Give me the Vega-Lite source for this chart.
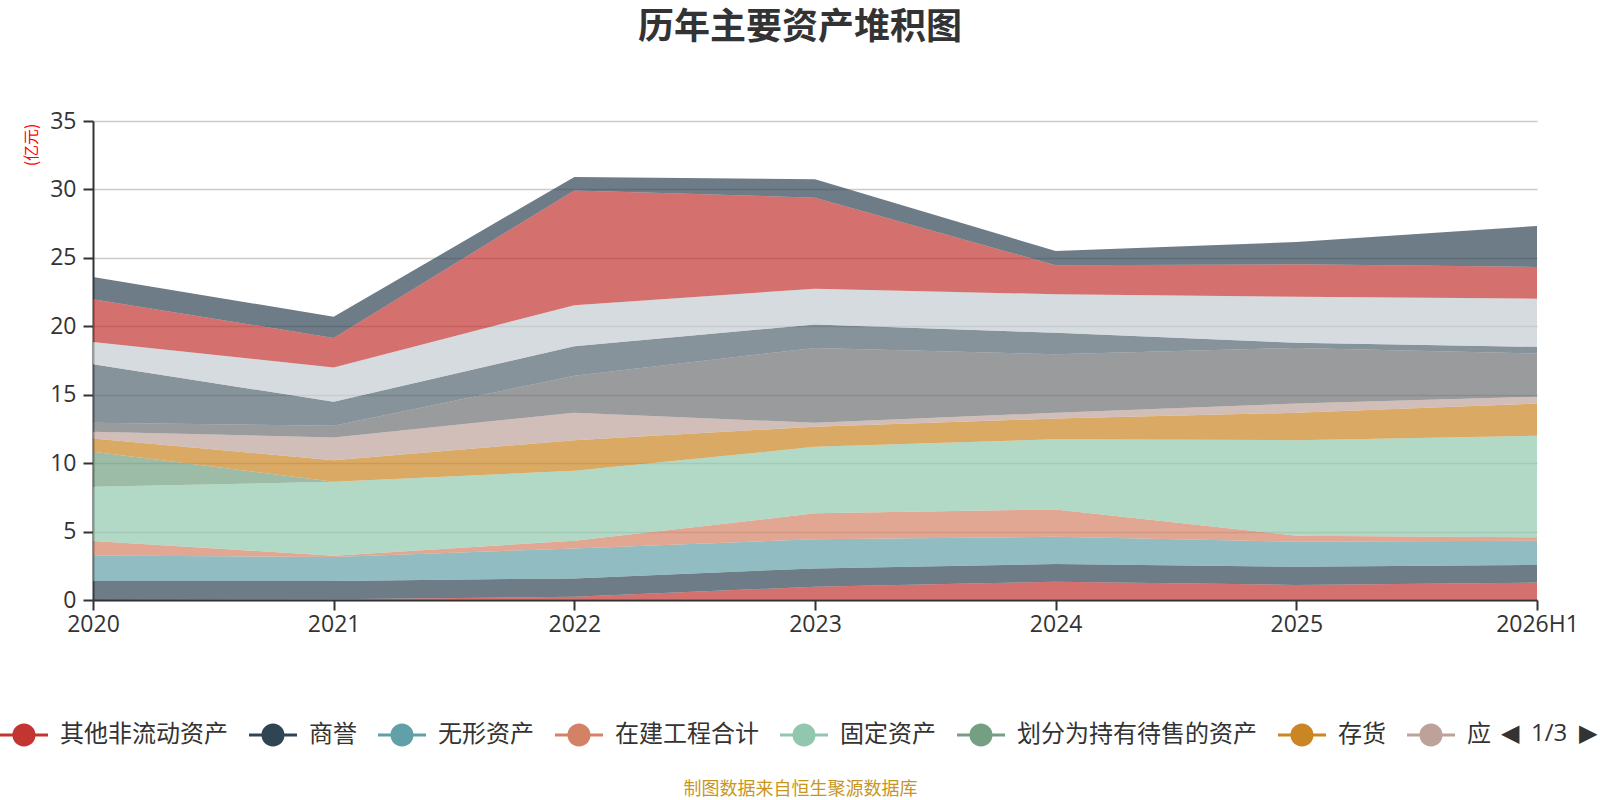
{
  "$schema": "https://vega.github.io/schema/vega-lite/v6.json",
  "width": 1444,
  "height": 479,
  "autosize": {"type": "none"},
  "padding": {"left": 93, "top": 121, "right": 63, "bottom": 200},
  "background": "#ffffff",
  "config": {"font": "Noto Sans CJK SC", "view": {"stroke": null}},
  "title": {
    "text": "历年主要资产堆积图",
    "fontSize": 36,
    "fontWeight": "bold",
    "color": "#333333",
    "anchor": "middle",
    "dx": -15,
    "offset": 63
  },
  "data": {
    "values": [
      {"year": "2020", "item": "其他非流动资产", "rank": 1, "value": 0},
      {"year": "2020", "item": "商誉", "rank": 2, "value": 1.39},
      {"year": "2020", "item": "无形资产", "rank": 3, "value": 1.87},
      {"year": "2020", "item": "在建工程合计", "rank": 4, "value": 1.05},
      {"year": "2020", "item": "固定资产", "rank": 5, "value": 3.96},
      {"year": "2020", "item": "划分为持有待售的资产", "rank": 6, "value": 2.56},
      {"year": "2020", "item": "存货", "rank": 7, "value": 0.97},
      {"year": "2020", "item": "应收账款", "rank": 8, "value": 0.49},
      {"year": "2020", "item": "应收票据", "rank": 9, "value": 0.66},
      {"year": "2020", "item": "预付款项", "rank": 10, "value": 4.28},
      {"year": "2020", "item": "其他应收款合计", "rank": 11, "value": 1.63},
      {"year": "2020", "item": "交易性金融资产", "rank": 12, "value": 3.12},
      {"year": "2020", "item": "货币资金", "rank": 13, "value": 1.63},

      {"year": "2021", "item": "其他非流动资产", "rank": 1, "value": 0.05},
      {"year": "2021", "item": "商誉", "rank": 2, "value": 1.34},
      {"year": "2021", "item": "无形资产", "rank": 3, "value": 1.75},
      {"year": "2021", "item": "在建工程合计", "rank": 4, "value": 0.10},
      {"year": "2021", "item": "固定资产", "rank": 5, "value": 5.40},
      {"year": "2021", "item": "划分为持有待售的资产", "rank": 6, "value": 0},
      {"year": "2021", "item": "存货", "rank": 7, "value": 1.58},
      {"year": "2021", "item": "应收账款", "rank": 8, "value": 1.66},
      {"year": "2021", "item": "应收票据", "rank": 9, "value": 0.85},
      {"year": "2021", "item": "预付款项", "rank": 10, "value": 1.75},
      {"year": "2021", "item": "其他应收款合计", "rank": 11, "value": 2.51},
      {"year": "2021", "item": "交易性金融资产", "rank": 12, "value": 2.16},
      {"year": "2021", "item": "货币资金", "rank": 13, "value": 1.54},

      {"year": "2022", "item": "其他非流动资产", "rank": 1, "value": 0.24},
      {"year": "2022", "item": "商誉", "rank": 2, "value": 1.34},
      {"year": "2022", "item": "无形资产", "rank": 3, "value": 2.19},
      {"year": "2022", "item": "在建工程合计", "rank": 4, "value": 0.56},
      {"year": "2022", "item": "固定资产", "rank": 5, "value": 5.11},
      {"year": "2022", "item": "划分为持有待售的资产", "rank": 6, "value": 0},
      {"year": "2022", "item": "存货", "rank": 7, "value": 2.24},
      {"year": "2022", "item": "应收账款", "rank": 8, "value": 2.00},
      {"year": "2022", "item": "应收票据", "rank": 9, "value": 2.70},
      {"year": "2022", "item": "预付款项", "rank": 10, "value": 2.16},
      {"year": "2022", "item": "其他应收款合计", "rank": 11, "value": 3.00},
      {"year": "2022", "item": "交易性金融资产", "rank": 12, "value": 8.39},
      {"year": "2022", "item": "货币资金", "rank": 13, "value": 0.98},

      {"year": "2023", "item": "其他非流动资产", "rank": 1, "value": 0.97},
      {"year": "2023", "item": "商誉", "rank": 2, "value": 1.34},
      {"year": "2023", "item": "无形资产", "rank": 3, "value": 2.12},
      {"year": "2023", "item": "在建工程合计", "rank": 4, "value": 1.90},
      {"year": "2023", "item": "固定资产", "rank": 5, "value": 4.86},
      {"year": "2023", "item": "划分为持有待售的资产", "rank": 6, "value": 0},
      {"year": "2023", "item": "存货", "rank": 7, "value": 1.47},
      {"year": "2023", "item": "应收账款", "rank": 8, "value": 0.29},
      {"year": "2023", "item": "应收票据", "rank": 9, "value": 5.47},
      {"year": "2023", "item": "预付款项", "rank": 10, "value": 1.71},
      {"year": "2023", "item": "其他应收款合计", "rank": 11, "value": 2.62},
      {"year": "2023", "item": "交易性金融资产", "rank": 12, "value": 6.65},
      {"year": "2023", "item": "货币资金", "rank": 13, "value": 1.34},

      {"year": "2024", "item": "其他非流动资产", "rank": 1, "value": 1.34},
      {"year": "2024", "item": "商誉", "rank": 2, "value": 1.29},
      {"year": "2024", "item": "无形资产", "rank": 3, "value": 1.99},
      {"year": "2024", "item": "在建工程合计", "rank": 4, "value": 2.00},
      {"year": "2024", "item": "固定资产", "rank": 5, "value": 5.13},
      {"year": "2024", "item": "划分为持有待售的资产", "rank": 6, "value": 0},
      {"year": "2024", "item": "存货", "rank": 7, "value": 1.51},
      {"year": "2024", "item": "应收账款", "rank": 8, "value": 0.42},
      {"year": "2024", "item": "应收票据", "rank": 9, "value": 4.28},
      {"year": "2024", "item": "预付款项", "rank": 10, "value": 1.56},
      {"year": "2024", "item": "其他应收款合计", "rank": 11, "value": 2.82},
      {"year": "2024", "item": "交易性金融资产", "rank": 12, "value": 2.12},
      {"year": "2024", "item": "货币资金", "rank": 13, "value": 1.04},

      {"year": "2025", "item": "其他非流动资产", "rank": 1, "value": 1.10},
      {"year": "2025", "item": "商誉", "rank": 2, "value": 1.33},
      {"year": "2025", "item": "无形资产", "rank": 3, "value": 1.83},
      {"year": "2025", "item": "在建工程合计", "rank": 4, "value": 0.44},
      {"year": "2025", "item": "固定资产", "rank": 5, "value": 6.98},
      {"year": "2025", "item": "划分为持有待售的资产", "rank": 6, "value": 0},
      {"year": "2025", "item": "存货", "rank": 7, "value": 2.00},
      {"year": "2025", "item": "应收账款", "rank": 8, "value": 0.68},
      {"year": "2025", "item": "应收票据", "rank": 9, "value": 4.06},
      {"year": "2025", "item": "预付款项", "rank": 10, "value": 0.37},
      {"year": "2025", "item": "其他应收款合计", "rank": 11, "value": 3.36},
      {"year": "2025", "item": "交易性金融资产", "rank": 12, "value": 2.38},
      {"year": "2025", "item": "货币资金", "rank": 13, "value": 1.63},

      {"year": "2026H1", "item": "其他非流动资产", "rank": 1, "value": 1.27},
      {"year": "2026H1", "item": "商誉", "rank": 2, "value": 1.29},
      {"year": "2026H1", "item": "无形资产", "rank": 3, "value": 1.77},
      {"year": "2026H1", "item": "在建工程合计", "rank": 4, "value": 0.25},
      {"year": "2026H1", "item": "固定资产", "rank": 5, "value": 7.42},
      {"year": "2026H1", "item": "划分为持有待售的资产", "rank": 6, "value": 0},
      {"year": "2026H1", "item": "存货", "rank": 7, "value": 2.36},
      {"year": "2026H1", "item": "应收账款", "rank": 8, "value": 0.49},
      {"year": "2026H1", "item": "应收票据", "rank": 9, "value": 3.16},
      {"year": "2026H1", "item": "预付款项", "rank": 10, "value": 0.49},
      {"year": "2026H1", "item": "其他应收款合计", "rank": 11, "value": 3.52},
      {"year": "2026H1", "item": "交易性金融资产", "rank": 12, "value": 2.32},
      {"year": "2026H1", "item": "货币资金", "rank": 13, "value": 2.99}
    ]
  },
  "mark": {"type": "area", "opacity": 0.7, "interpolate": "linear"},
  "encoding": {
    "x": {
      "field": "year",
      "type": "ordinal",
      "sort": null,
      "scale": {"type": "point", "padding": 0},
      "axis": {
        "title": "制图数据来自恒生聚源数据库",
        "titleColor": "#c8961e",
        "titleFontSize": 18,
        "titleFontWeight": "normal",
        "titleX": 707,
        "titleY": 189,
        "titleAlign": "center",
        "titleBaseline": "middle",
        "labelFont": "Open Sans",
        "labelFontSize": 23,
        "labelColor": "#333333",
        "labelAngle": 0,
        "labelPadding": 3,
        "labelOverlap": false,
        "tickSize": 10,
        "tickWidth": 2,
        "tickColor": "#333333",
        "domainColor": "#333333",
        "domainWidth": 2,
        "grid": false
      }
    },
    "y": {
      "field": "value",
      "type": "quantitative",
      "stack": "zero",
      "scale": {"domain": [0, 35], "nice": false},
      "axis": {
        "title": "(亿元)",
        "titleColor": "#ff0000",
        "titleFontSize": 16,
        "titleFontWeight": "normal",
        "titleAngle": -90,
        "titleX": -62,
        "titleY": 2,
        "titleAlign": "right",
        "titleBaseline": "middle",
        "values": [0, 5, 10, 15, 20, 25, 30, 35],
        "labelFont": "Open Sans",
        "labelFontSize": 23,
        "labelColor": "#333333",
        "labelPadding": 7,
        "tickSize": 10,
        "tickWidth": 2,
        "tickColor": "#333333",
        "domainColor": "#333333",
        "domainWidth": 2,
        "gridColor": "#cccccc",
        "gridWidth": 1.5
      }
    },
    "color": {
      "field": "item",
      "type": "nominal",
      "scale": {
        "domain": ["其他非流动资产", "商誉", "无形资产", "在建工程合计", "固定资产", "划分为持有待售的资产", "存货", "应收账款", "应收票据", "预付款项", "其他应收款合计", "交易性金融资产", "货币资金"],
        "range": ["#c23531", "#2f4554", "#61a0a8", "#d48265", "#91c7ae", "#749f83", "#ca8622", "#bda29a", "#6e7074", "#546570", "#c4ccd3", "#c23531", "#2f4554"]
      },
      "legend": {
        "orient": "none",
        "legendX": -93,
        "legendY": 590,
        "direction": "horizontal",
        "columns": 8,
        "values": ["其他非流动资产", "商誉", "无形资产", "在建工程合计", "固定资产", "划分为持有待售的资产", "存货", "应收账款"],
        "labelExpr": "datum.label == '应收账款' ? '应' : datum.label",
        "labelLimit": 400,
        "title": "◀\u20021/3\u2002▶",
        "titleOrient": "right",
        "titleFont": "Open Sans",
        "titleFontSize": 24,
        "titleFontWeight": "normal",
        "titleColor": "#333333",
        "titlePadding": 10,
        "titleBaseline": "line-top",
        "titleLineHeight": 10,
        "labelFontSize": 24,
        "labelColor": "#333333",
        "labelOffset": 12,
        "columnPadding": 21,
        "symbolType": "M-1,-0.0625 L1,-0.0625 L1,0.0625 L-1,0.0625 Z M0.48,0 A0.48,0.48 0 1,1 -0.48,0 A0.48,0.48 0 1,1 0.48,0 Z",
        "symbolSize": 2304,
        "symbolOpacity": 1,
        "symbolStrokeWidth": 0
      }
    },
    "order": {"field": "rank", "type": "quantitative", "sort": "ascending"}
  }
}
